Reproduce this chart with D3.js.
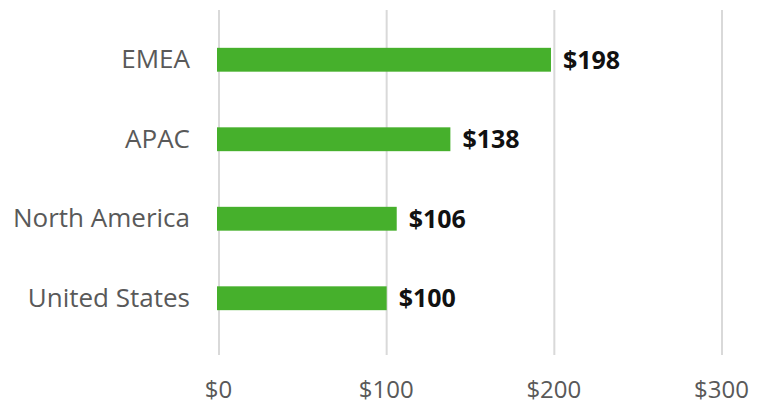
<!DOCTYPE html>
<html>
<head>
<meta charset="utf-8">
<script src="https://cdn.jsdelivr.net/npm/d3@7"></script>
<style>
  html, body { margin: 0; padding: 0; background: #fff; }
  svg { display: block; font-family: "Open Sans", sans-serif; }
</style>
</head>
<body>
<svg id="chart" width="761" height="409"></svg>
<script>
// Regions, top to bottom, and their values in dollars
const regions = ["EMEA", "APAC", "North America", "United States"];
const amounts = [198, 138, 106, 100];
const tickValues = [0, 100, 200, 300];
const tickLabels = ["$0", "$100", "$200", "$300"];

const svg = d3.select("#chart");
const margin = { top: 20, left: 219, right: 39, bottom: 54 };
const width = 761, height = 409;

const x = d3.scaleLinear()
  .domain([0, 300])
  .range([margin.left, width - margin.right]);

const y = d3.scaleBand()
  .domain(regions)
  .range([margin.top, 338])
  .paddingInner(0.7)
  .paddingOuter(0.35);

// Vertical gridlines
svg.append("g")
  .selectAll("line")
  .data(tickValues)
  .join("line")
  .attr("x1", d => x(d)).attr("x2", d => x(d))
  .attr("y1", 10).attr("y2", 355)
  .attr("stroke", "#d9d9d9")
  .attr("stroke-width", 2);

// Bottom axis labels
const xAxis = d3.axisBottom(x)
  .tickValues(tickValues)
  .tickFormat((d, i) => tickLabels[i])
  .tickSize(0)
  .tickPadding(0);
const gx = svg.append("g")
  .attr("transform", "translate(-1,381)")
  .call(xAxis);
gx.select(".domain").remove();
gx.selectAll("text")
  .attr("fill", "#595959")
  .style("font-size", "24px")
  .style("font-family", "'Open Sans', sans-serif");

// Left axis labels
const yAxis = d3.axisLeft(y).tickSize(0).tickPadding(29);
const gy = svg.append("g")
  .attr("transform", `translate(${x(0)},0)`)
  .call(yAxis);
gy.select(".domain").remove();
gy.selectAll("text")
  .attr("fill", "#595959")
  .style("font-size", "26px")
  .style("font-family", "'Open Sans', sans-serif");

// Bars
const rows = regions.map((r, i) => ({ region: r, value: amounts[i] }));
svg.append("g")
  .selectAll("rect")
  .data(rows)
  .join("rect")
  .attr("x", x(0) - 2)
  .attr("y", d => y(d.region))
  .attr("width", d => x(d.value) - x(0) + 2)
  .attr("height", y.bandwidth())
  .attr("fill", "#46b02c");

// Value labels
svg.append("g")
  .selectAll("text")
  .data(rows)
  .join("text")
  .attr("x", d => x(d.value) + 12)
  .attr("y", d => y(d.region) + y.bandwidth() / 2)
  .attr("dy", "0.36em")
  .attr("fill", "#111")
  .style("font-weight", "bold")
  .style("font-size", "25px")
  .text(d => "$" + d.value);
</script>
</body>
</html>
